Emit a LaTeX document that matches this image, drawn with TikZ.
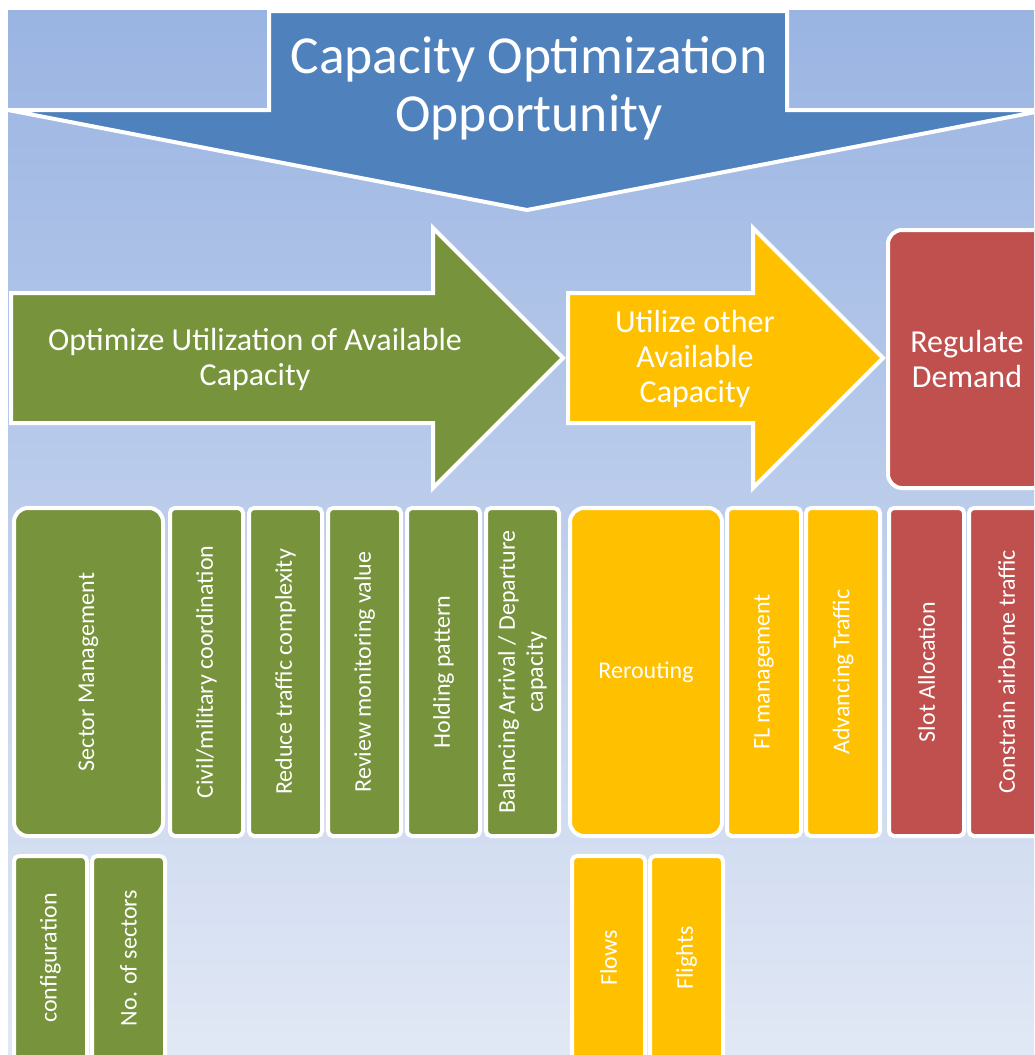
\documentclass[tikz,border=0pt]{standalone}
\usepackage{fontspec}
\setmainfont{Carlito}
\usepackage{tikz}
\usepackage{xcolor}

\definecolor{bgtop}{HTML}{9AB4E2}
\definecolor{bgbottom}{HTML}{E1E8F5}
\definecolor{capblue}{HTML}{4F81BD}
\definecolor{optgreen}{HTML}{77933C}
\definecolor{utilorange}{HTML}{FFC000}
\definecolor{regred}{HTML}{C0504D}

\begin{document}
\begin{tikzpicture}[x=1pt,y=-1pt]
%\draw[help lines] (0,0) grid (1034,1055);

\tikzset{
outline/.style 	= {draw=white, line width=4pt, line join=miter},
headtext/.style = {text=white, align=center, inner sep=0pt,
                   font=\fontsize{32}{35}\selectfont},
vbox/.style 	= {outline, rounded corners=5pt, rotate=90, text=white,
                   font=\fontsize{24}{28}\selectfont, align=center,
                   inner sep=0pt, minimum width=328pt, minimum height=73pt},
lowbox/.style 	= {vbox, minimum width=204pt}
}

\useasboundingbox (0,0) rectangle (1034,1055);
\clip (0,0) rectangle (1034,1055);
\shade[top color=bgtop, bottom color=bgbottom] (8,10) rectangle (1034,1055);

% top arrow
\fill[capblue, outline] (269,11) -- (787,11) -- (787,110) -- (1046,110)
  -- (527,210) -- (8,110) -- (269,110) -- cycle;
\node[headtext, font=\fontsize{53.5}{58}\selectfont] (capacity) at (529,88)
  {Capacity Optimization\\Opportunity};

% level arrows
\fill[optgreen, outline] (11,293) -- (433,293) -- (433,228) -- (563,358)
  -- (433,488) -- (433,423) -- (11,423) -- cycle;
\node[headtext] (optimize) at (255,359)
  {Optimize Utilization of Available\\Capacity};

\fill[utilorange, outline] (568,293) -- (753,293) -- (753,228) -- (883,358)
  -- (753,488) -- (753,423) -- (568,423) -- cycle;
\node[headtext] (utilize) at (695,359)
  {Utilize other\\Available\\Capacity};

\node[outline, fill=regred, rounded corners=14pt, minimum width=158pt,
  minimum height=258pt, headtext] (regulate) at (967,359) {Regulate\\Demand};

% measures
\node[vbox, fill=optgreen, rounded corners=14pt, minimum height=149pt] (sector) at (88.5,672) {Sector Management};
\node[vbox, fill=optgreen] (civil) at (206.5,672) {Civil/military coordination};
\node[vbox, fill=optgreen] (reduce) at (285.5,672) {Reduce traffic complexity};
\node[vbox, fill=optgreen] (review) at (364.5,672) {Review monitoring value};
\node[vbox, fill=optgreen] (holding) at (443.5,672) {Holding pattern};
\node[vbox, fill=optgreen] (balancing) at (522.5,672) {Balancing Arrival / Departure\\capacity};

\node[vbox, rotate=-90, fill=utilorange, rounded corners=14pt, minimum width=152pt,
  minimum height=328pt] (rerouting) at (646,672) {Rerouting};
\node[vbox, fill=utilorange, minimum height=74pt] (flmgmt) at (764,672) {FL management};
\node[vbox, fill=utilorange, minimum height=74pt] (advancing) at (843,672) {Advancing Traffic};

\node[vbox, fill=regred, minimum height=75pt] (slot) at (926.5,672) {Slot Allocation};
\node[vbox, fill=regred, minimum height=75pt] (constrain) at (1006.5,672) {Constrain airborne traffic};

% sub measures
\node[lowbox, fill=optgreen] (config) at (50.5,958) {configuration};
\node[lowbox, fill=optgreen] (nosectors) at (128.5,958) {No. of sectors};
\node[lowbox, fill=utilorange] (flows) at (608.5,958) {Flows};
\node[lowbox, fill=utilorange] (flights) at (686.5,958) {Flights};

\end{tikzpicture}
\end{document}
